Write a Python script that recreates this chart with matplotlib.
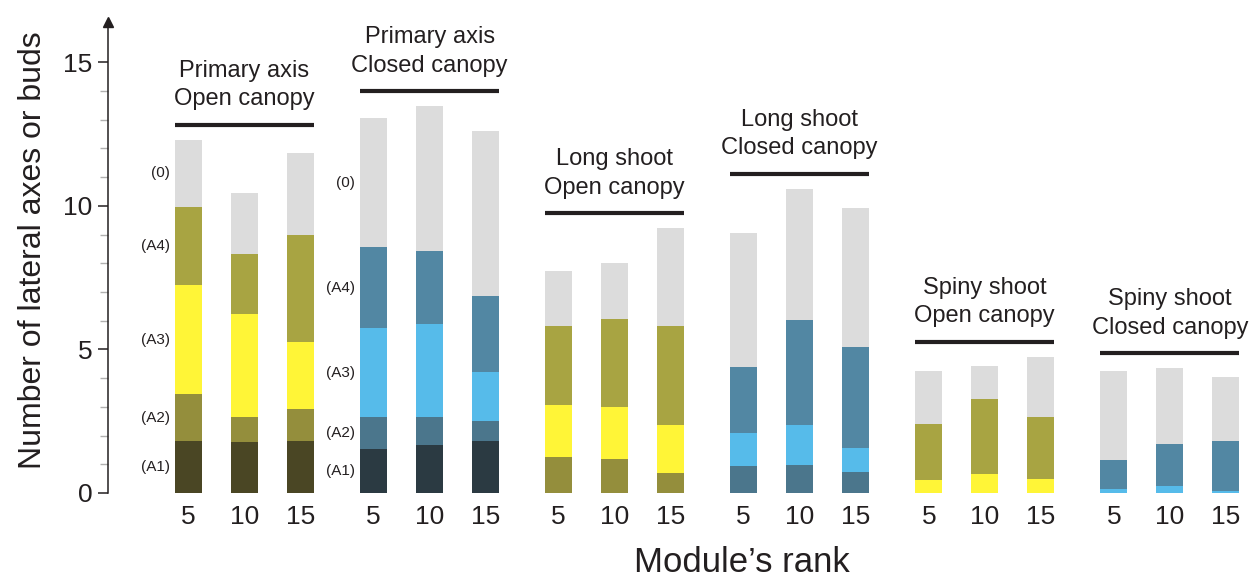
import numpy as np
import matplotlib.pyplot as plt

plt.rcParams['font.family'] = ['Liberation Sans', 'DejaVu Sans']

# module ranks shown under every group
ranks = [5, 10, 15]

titles = ['Primary axis\nOpen canopy', 'Primary axis\nClosed canopy',
          'Long shoot\nOpen canopy', 'Long shoot\nClosed canopy',
          'Spiny shoot\nOpen canopy', 'Spiny shoot\nClosed canopy']
canopy = ['open', 'closed', 'open', 'closed', 'open', 'closed']

seg_names = ['(A1)', '(A2)', '(A3)', '(A4)', '(0)']

# segment heights, 3 ranks per group, groups in the order of titles
a1 = [1.82, 1.79, 1.82,  1.52, 1.66, 1.80,  0, 0, 0,
      0, 0, 0,  0, 0, 0,  0, 0, 0]
a2 = [1.61, 0.87, 1.11,  1.11, 0.97, 0.69,  1.25, 1.19, 0.71,
      0.94, 0.99, 0.73,  0, 0, 0,  0, 0, 0]
a3 = [3.82, 3.57, 2.33,  3.11, 3.24, 1.71,  1.80, 1.81, 1.65,
      1.16, 1.37, 0.84,  0.44, 0.65, 0.48,  0.13, 0.25, 0.07]
a4 = [2.70, 2.09, 3.71,  2.81, 2.54, 2.66,  2.76, 3.07, 3.45,
      2.30, 3.66, 3.52,  1.95, 2.61, 2.15,  1.02, 1.45, 1.75]
a0 = [2.35, 2.11, 2.86,  4.49, 5.06, 5.75,  1.92, 1.95, 3.41,
      4.64, 4.57, 4.84,  1.86, 1.17, 2.11,  3.09, 2.65, 2.23]

colors = {
    'open':   ['#4a4624', '#948e3c', '#fff537', '#a8a442', '#dcdcdc'],
    'closed': ['#2b3a42', '#4b768c', '#56bbea', '#5287a3', '#dcdcdc'],
}

fig = plt.figure(figsize=(12.53, 5.82), dpi=100)
ax = fig.add_axes([108 / 1253, 89 / 582, 1145 / 1253, 471 / 582])

segments = np.array([a1, a2, a3, a4, a0])
n_groups = len(titles)
group_step = 3.305
width = 0.48

positions = []
for g in range(n_groups):
    xs = g * group_step + np.arange(len(ranks))
    positions.extend(xs)
    cols = colors[canopy[g]]
    bottom = np.zeros(len(ranks))
    for k in range(len(seg_names)):
        h = segments[k, g * 3:(g + 1) * 3]
        ax.bar(xs, h, width, bottom=bottom, color=cols[k], linewidth=0)
        # segment names beside the first bar of the primary axis groups
        if g < 2 and h[0] > 0:
            ax.text(xs[0] - width / 2 - 0.09, bottom[0] + h[0] / 2, seg_names[k],
                    ha='right', va='center', fontsize=11, color='#231f20')
        bottom = bottom + h
    # black line and title above the group
    ly = bottom.max() + 0.52
    ax.plot([xs[0] - width / 2, xs[-1] + width / 2], [ly, ly], color='#231f20',
            lw=3, solid_capstyle='butt')
    ax.annotate(titles[g], xy=(xs.mean(), ly), xytext=(0, 10.5),
                textcoords='offset points', ha='center', va='bottom',
                fontsize=17, linespacing=1.38, color='#231f20')

ax.set_xlim(-1.4375, 19.01)
ax.set_ylim(0, 16.4)

ax.set_xticks(positions)
ax.set_xticklabels([str(r) for r in ranks] * n_groups, fontsize=19, color='#231f20')
ax.tick_params(axis='x', length=0, pad=9)

ax.set_yticks([0, 5, 10, 15])
ax.set_yticks([v for v in range(15) if v % 5], minor=True)
ax.tick_params(axis='y', which='major', length=7, width=1.1, pad=4,
               labelsize=19, labelcolor='#231f20', color='#231f20')
ax.tick_params(axis='y', which='minor', length=6, width=1, color='#b0b0b0')

for side in ['top', 'right', 'bottom']:
    ax.spines[side].set_visible(False)
ax.spines['left'].set_linewidth(1.1)
ax.spines['left'].set_color('#231f20')
ax.plot(0, 1, marker='^', color='#231f20', markersize=7,
        transform=ax.transAxes, clip_on=False)

fig.text(33 / 1253, 1 - 250 / 582, 'Number of lateral axes or buds', rotation=90,
         ha='center', va='center', fontsize=23, color='#231f20')
fig.text(742 / 1253, 1 - 563 / 582, 'Module\u2019s rank',
         ha='center', va='center', fontsize=25, color='#231f20')

fig.savefig('out.png', dpi=100)
